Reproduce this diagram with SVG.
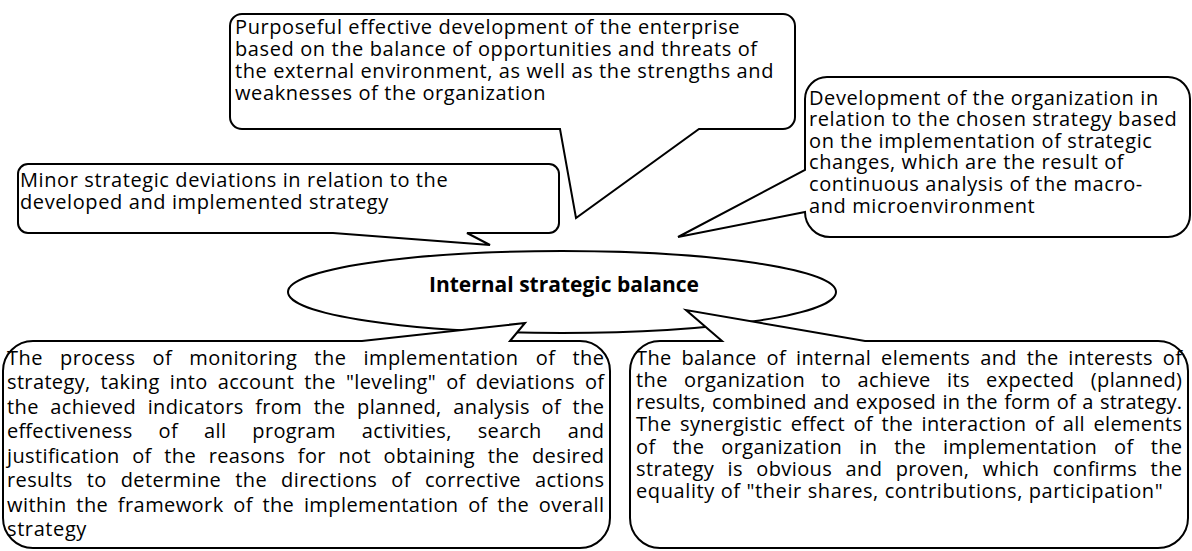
<svg xmlns="http://www.w3.org/2000/svg" width="1192" height="551" viewBox="0 0 1192 551">
<style>
.shape{fill:#fff;stroke:#000;stroke-width:2;stroke-linejoin:miter}
.t{font-family:"Open Sans","Noto Sans","Liberation Sans",sans-serif;font-size:20px;letter-spacing:0.6px;fill:#000}
.j{letter-spacing:0}
.b{font-family:"Open Sans","Noto Sans","Liberation Sans",sans-serif;font-size:21px;font-weight:bold;fill:#000}
</style>
<rect width="1192" height="551" fill="#fff"/>
<g id="center">
<ellipse class="shape" cx="562" cy="292" rx="274" ry="41"/>
<text class="b" x="564" y="292" text-anchor="middle">Internal strategic balance</text>
</g>
<g id="n-top">
<path class="shape" d="M242,14 H783 A12,12 0 0 1 795,26 V117 A12,12 0 0 1 783,129 H699 L576,218 L560,129 H242 A12,12 0 0 1 230,117 V26 A12,12 0 0 1 242,14 Z"/>
<text class="t" x="235" y="33.5">Purposeful effective development of the enterprise</text>
<text class="t" x="235" y="55.5">based on the balance of opportunities and threats of</text>
<text class="t" x="235" y="77.5">the external environment, as well as the strengths and</text>
<text class="t" x="235" y="99.5">weaknesses of the organization</text>
</g>
<g id="n-left">
<path class="shape" d="M28,164 H549 A10,10 0 0 1 559,174 V223 A10,10 0 0 1 549,233 H467 L490,245 L333,233 H28 A10,10 0 0 1 18,223 V174 A10,10 0 0 1 28,164 Z"/>
<text class="t" x="20" y="186.5">Minor strategic deviations in relation to the</text>
<text class="t" x="20" y="208.5">developed and implemented strategy</text>
</g>
<g id="n-right">
<path class="shape" d="M827,77 H1168 A22,22 0 0 1 1190,99 V215 A22,22 0 0 1 1168,237 H830 A25,25 0 0 1 805,212 L678,237 L805,170 V99 A22,22 0 0 1 827,77 Z"/>
<text class="t" x="809" y="104.5">Development of the organization in</text>
<text class="t" x="809" y="126.1">relation to the chosen strategy based</text>
<text class="t" x="809" y="147.7">on the implementation of strategic</text>
<text class="t" x="809" y="169.3">changes, which are the result of</text>
<text class="t" x="809" y="190.9">continuous analysis of the macro-</text>
<text class="t" x="809" y="212.5">and microenvironment</text>
</g>
<g id="n-bottom-left">
<path class="shape" d="M33,341 H362 L525,323 L510,341 H580 A30,30 0 0 1 610,371 V518 A30,30 0 0 1 580,548 H33 A30,30 0 0 1 3,518 V371 A30,30 0 0 1 33,341 Z"/>
<text class="t j" x="7" y="364.5" word-spacing="11.5" textLength="597" lengthAdjust="spacing">The process of monitoring the implementation of the</text>
<text class="t j" x="7" y="389" word-spacing="4.5" textLength="597" lengthAdjust="spacing">strategy, taking into account the "leveling" of deviations of</text>
<text class="t j" x="7" y="413.5" word-spacing="6" textLength="597" lengthAdjust="spacing">the achieved indicators from the planned, analysis of the</text>
<text class="t j" x="7" y="438" word-spacing="20.5" textLength="597" lengthAdjust="spacing">effectiveness of all program activities, search and</text>
<text class="t j" x="7" y="462.5" word-spacing="7" textLength="597" lengthAdjust="spacing">justification of the reasons for not obtaining the desired</text>
<text class="t j" x="7" y="487" word-spacing="8.5" textLength="597" lengthAdjust="spacing">results to determine the directions of corrective actions</text>
<text class="t j" x="7" y="511.5" word-spacing="4" textLength="597" lengthAdjust="spacing">within the framework of the implementation of the overall</text>
<text class="t" x="7" y="536">strategy</text>
</g>
<g id="n-bottom-right">
<path class="shape" d="M660,341 H722 L686,310 L865,341 H1158 A30,30 0 0 1 1188,371 V518 A30,30 0 0 1 1158,548 H660 A30,30 0 0 1 630,518 V371 A30,30 0 0 1 660,341 Z"/>
<text class="t j" x="636" y="364.5" word-spacing="4.3" textLength="546" lengthAdjust="spacing">The balance of internal elements and the interests of</text>
<text class="t j" x="636" y="386.8" word-spacing="10.7" textLength="546" lengthAdjust="spacing">the organization to achieve its expected (planned)</text>
<text class="t j" x="636" y="409.1" word-spacing="1" textLength="546" lengthAdjust="spacing">results, combined and exposed in the form of a strategy.</text>
<text class="t j" x="636" y="431.4" word-spacing="3" textLength="546" lengthAdjust="spacing">The synergistic effect of the interaction of all elements</text>
<text class="t j" x="636" y="453.7" word-spacing="11.5" textLength="546" lengthAdjust="spacing">of the organization in the implementation of the</text>
<text class="t j" x="636" y="476" word-spacing="7.8" textLength="546" lengthAdjust="spacing">strategy is obvious and proven, which confirms the</text>
<text class="t" x="636" y="498.3">equality of "their shares, contributions, participation"</text>
</g>
</svg>
